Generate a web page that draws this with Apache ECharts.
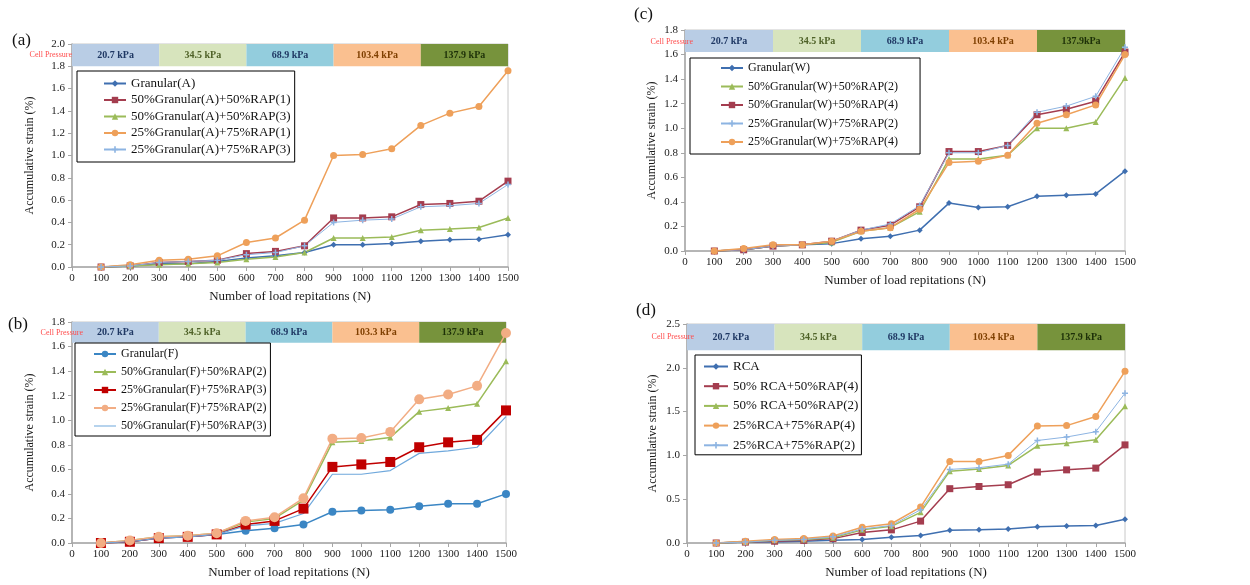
<!DOCTYPE html>
<html>
<head>
<meta charset="utf-8">
<script src="https://cdn.jsdelivr.net/npm/echarts@6/dist/echarts.min.js"></script>
<style>
  html, body { margin: 0; padding: 0; background: #ffffff; }
  #chart { width: 1250px; height: 585px; }
</style>
</head>
<body>
<div id="chart"></div>
<script>
// Load repetitions (x values) shared by all four panels
const reps = [100, 200, 300, 400, 500, 600, 700, 800, 900, 1000, 1100, 1200, 1300, 1400, 1500];

// Confining-pressure stages shown in the band across the top of each panel
const stageEdges = [0, 300, 600, 900, 1200, 1500];
const stagesA = ['20.7 kPa', '34.5 kPa', '68.9 kPa', '103.4 kPa', '137.9 kPa'];
const stagesB = ['20.7 kPa', '34.5 kPa', '68.9 kPa', '103.3 kPa', '137.9 kPa'];
const stagesC = ['20.7 kPa', '34.5 kPa', '68.9 kPa', '103.4 kPa', '137.9kPa'];
const stagesD = ['20.7 kPa', '34.5 kPa', '68.9 kPa', '103.4 kPa', '137.9 kPa'];

// (a) Granular(A) blends – accumulative strain (%)
const namesA = ['Granular(A)', '50%Granular(A)+50%RAP(1)', '50%Granular(A)+50%RAP(3)', '25%Granular(A)+75%RAP(1)', '25%Granular(A)+75%RAP(3)'];
const granA  = [0, 0.01, 0.03, 0.03, 0.05, 0.08, 0.10, 0.13, 0.20, 0.20, 0.21, 0.23, 0.245, 0.25, 0.29];
const a50r1  = [0, 0.01, 0.04, 0.05, 0.06, 0.12, 0.14, 0.19, 0.44, 0.44, 0.45, 0.56, 0.57, 0.59, 0.77];
const a50r3  = [0, 0.01, 0.02, 0.03, 0.04, 0.07, 0.09, 0.13, 0.26, 0.26, 0.27, 0.33, 0.34, 0.355, 0.44];
const a25r1  = [0, 0.02, 0.06, 0.07, 0.10, 0.22, 0.26, 0.42, 1.00, 1.01, 1.06, 1.27, 1.38, 1.44, 1.76];
const a25r3  = [0, 0.01, 0.04, 0.05, 0.06, 0.11, 0.13, 0.19, 0.40, 0.42, 0.43, 0.54, 0.55, 0.57, 0.74];

// (b) Granular(F) blends
const namesB = ['Granular(F)', '50%Granular(F)+50%RAP(2)', '25%Granular(F)+75%RAP(3)', '25%Granular(F)+75%RAP(2)', '50%Granular(F)+50%RAP(3)'];
const granF  = [0, 0.01, 0.04, 0.05, 0.07, 0.10, 0.12, 0.15, 0.255, 0.265, 0.27, 0.30, 0.32, 0.32, 0.40];
const f50r2  = [0, 0.02, 0.05, 0.06, 0.08, 0.17, 0.20, 0.35, 0.82, 0.83, 0.86, 1.07, 1.10, 1.135, 1.48];
const f25r3  = [0, 0.01, 0.04, 0.05, 0.07, 0.15, 0.18, 0.28, 0.62, 0.64, 0.66, 0.78, 0.82, 0.84, 1.08];
const f25r2  = [0, 0.02, 0.05, 0.06, 0.08, 0.18, 0.21, 0.365, 0.85, 0.855, 0.905, 1.17, 1.21, 1.28, 1.71];
const f50r3  = [0, 0.01, 0.04, 0.05, 0.07, 0.14, 0.16, 0.24, 0.56, 0.56, 0.59, 0.73, 0.75, 0.78, 1.03];

// (c) Granular(W) blends
const namesC = ['Granular(W)', '50%Granular(W)+50%RAP(2)', '50%Granular(W)+50%RAP(4)', '25%Granular(W)+75%RAP(2)', '25%Granular(W)+75%RAP(4)'];
const granW  = [0, 0.01, 0.04, 0.05, 0.06, 0.10, 0.12, 0.17, 0.39, 0.355, 0.36, 0.445, 0.455, 0.465, 0.65];
const w50r2  = [0, 0.01, 0.04, 0.05, 0.07, 0.16, 0.19, 0.32, 0.75, 0.75, 0.78, 1.00, 1.00, 1.05, 1.41];
const w50r4  = [0, 0.01, 0.04, 0.05, 0.08, 0.17, 0.21, 0.36, 0.81, 0.81, 0.86, 1.11, 1.155, 1.22, 1.62];
const w25r2  = [0, 0.01, 0.04, 0.05, 0.08, 0.17, 0.22, 0.37, 0.80, 0.80, 0.86, 1.13, 1.18, 1.26, 1.66];
const w25r4  = [0, 0.02, 0.05, 0.05, 0.08, 0.16, 0.19, 0.34, 0.72, 0.73, 0.78, 1.04, 1.11, 1.19, 1.60];

// (d) RCA blends
const namesD = ['RCA', '50% RCA+50%RAP(4)', '50% RCA+50%RAP(2)', '25%RCA+75%RAP(4)', '25%RCA+75%RAP(2)'];
const rca    = [0, 0.01, 0.01, 0.02, 0.03, 0.04, 0.065, 0.085, 0.145, 0.15, 0.16, 0.185, 0.195, 0.20, 0.27];
const r50r4  = [0, 0.01, 0.02, 0.03, 0.05, 0.12, 0.15, 0.25, 0.62, 0.645, 0.665, 0.81, 0.835, 0.855, 1.12];
const r50r2  = [0, 0.01, 0.03, 0.04, 0.06, 0.15, 0.19, 0.35, 0.82, 0.845, 0.885, 1.11, 1.14, 1.18, 1.56];
const r25r4  = [0, 0.02, 0.04, 0.05, 0.08, 0.18, 0.22, 0.41, 0.93, 0.93, 1.00, 1.335, 1.34, 1.445, 1.96];
const r25r2  = [0, 0.01, 0.03, 0.04, 0.07, 0.16, 0.20, 0.38, 0.84, 0.86, 0.90, 1.17, 1.21, 1.27, 1.71];

// ---------- styling ----------
const FONT = 'Liberation Serif';
const stageFill = ['#b9cde5', '#d7e4bd', '#93cddd', '#fac090', '#77933c'];
const stageText = ['#1f3864', '#4f6228', '#1f3864', '#7f3f00', '#1d3008'];
const plusPath = 'path://M3,0H5V3H8V5H5V8H3V5H0V3H3Z';
// plain horizontal stroke for a marker-less legend entry (corner specks fix the box)
const lineOnlyIcon = 'path://M0,0H0.05V0.05H0ZM0,3.4H24V4.6H0ZM23.95,7.95H24V8H23.95Z';

const styles = {
  blueDiamond: { color: '#3f6fb0', symbol: 'diamond', symbolSize: 6, width: 1.5 },
  blueCircle:  { color: '#3b86c4', symbol: 'circle', symbolSize: 8, width: 1.5 },
  maroonSq:    { color: '#a43d4f', symbol: 'rect', symbolSize: 7, width: 1.5 },
  redSq:       { color: '#c00000', symbol: 'rect', symbolSize: 10, width: 1.5 },
  greenTri:    { color: '#9bbb59', symbol: 'triangle', symbolSize: 6, width: 1.5 },
  orangeDot:   { color: '#eea05a', symbol: 'circle', symbolSize: 7, width: 1.5 },
  peachDot:    { color: '#f2ad84', symbol: 'circle', symbolSize: 10, width: 1.5 },
  lightPlus:   { color: '#8db4e2', symbol: plusPath, symbolSize: 6, width: 1 },
  lightLine:   { color: '#6fa8dc', symbol: 'none', symbolSize: 0, width: 1.2 }
};

const panels = [
  { key: 'a', grid: { left: 72, top: 44, width: 436, height: 223 }, yMax: 2.0, yInt: 0.2, band: 1.8,
    stages: stagesA, names: namesA, values: [granA, a50r1, a50r3, a25r1, a25r3],
    kinds: ['blueDiamond', 'maroonSq', 'greenTri', 'orangeDot', 'lightPlus'],
    legend: { left: 77, top: 71, padding: [6, 4, 6, 26], itemGap: 3.5, fontSize: 13, itemWidth: 22 },
    yNameGap: 36, label: '(a)', labelPos: [12, 32], cellPos: [72, 55] },
  { key: 'c', grid: { left: 685, top: 30, width: 440, height: 221 }, yMax: 1.8, yInt: 0.2, band: 1.62,
    stages: stagesC, names: namesC, values: [granW, w50r2, w50r4, w25r2, w25r4],
    kinds: ['blueDiamond', 'greenTri', 'maroonSq', 'lightPlus', 'orangeDot'],
    legend: { left: 690, top: 58, padding: [4, 22, 6, 30], itemGap: 6.5, fontSize: 12, itemWidth: 22 },
    yNameGap: 27, label: '(c)', labelPos: [634, 6], cellPos: [693, 42] },
  { key: 'b', grid: { left: 72, top: 322, width: 434, height: 221 }, yMax: 1.8, yInt: 0.2, band: 1.63,
    stages: stagesB, names: namesB, values: [granF, f50r2, f25r3, f25r2, f50r3],
    kinds: ['blueCircle', 'greenTri', 'redSq', 'peachDot', 'lightLine'],
    legend: { left: 75, top: 343, padding: [5, 4, 4, 18], itemGap: 6, fontSize: 12, itemWidth: 22 },
    yNameGap: 36, label: '(b)', labelPos: [8, 316], cellPos: [83, 333] },
  { key: 'd', grid: { left: 687, top: 324, width: 438, height: 219 }, yMax: 2.5, yInt: 0.5, band: 2.2,
    stages: stagesD, names: namesD, values: [rca, r50r4, r50r2, r25r4, r25r2],
    kinds: ['blueDiamond', 'maroonSq', 'greenTri', 'orangeDot', 'lightPlus'],
    legend: { left: 695, top: 355, padding: [5, 3, 3, 8], itemGap: 6.7, fontSize: 13, itemWidth: 24 },
    yNameGap: 28, label: '(d)', labelPos: [636, 302], cellPos: [694, 337] }
];

const option = {
  animation: false,
  backgroundColor: '#ffffff',
  grid: [], xAxis: [], yAxis: [], series: [], legend: [], graphic: []
};

const axisGray = '#a6a6a6';

panels.forEach((p, i) => {
  option.grid.push(Object.assign({ show: true, borderColor: '#c8c8c8', borderWidth: 1, backgroundColor: 'transparent' }, p.grid));

  option.xAxis.push({
    type: 'value', gridIndex: i, min: 0, max: 1500, interval: 100,
    name: 'Number of load repitations (N)', nameLocation: 'middle', nameGap: 23,
    nameTextStyle: { fontFamily: FONT, fontSize: 13, color: '#1a1a1a' },
    axisLine: { show: true, lineStyle: { color: axisGray, width: 1.5 } },
    axisTick: { show: true, length: 4, lineStyle: { color: axisGray } },
    axisLabel: { fontFamily: FONT, fontSize: 11, color: '#1a1a1a', margin: 6,
                 formatter: v => String(v) },
    splitLine: { show: false }
  });

  option.yAxis.push({
    type: 'value', gridIndex: i, min: 0, max: p.yMax, interval: p.yInt,
    name: 'Accumulative strain (%)', nameLocation: 'middle', nameGap: p.yNameGap, nameRotate: 90,
    nameTextStyle: { fontFamily: FONT, fontSize: 12, color: '#1a1a1a' },
    axisLine: { show: true, lineStyle: { color: axisGray, width: 1.5 } },
    axisTick: { show: true, length: 4, lineStyle: { color: axisGray } },
    axisLabel: { fontFamily: FONT, fontSize: 11, color: '#1a1a1a', margin: 7,
                 formatter: v => v.toFixed(1) },
    splitLine: { show: false }
  });

  // pressure-stage band along the top of the plot
  const bandData = p.stages.map((s, k) => [
    { name: s, xAxis: stageEdges[k], yAxis: p.band,
      itemStyle: { color: stageFill[k], opacity: 1 },
      label: { color: stageText[k] } },
    { xAxis: stageEdges[k + 1], yAxis: p.yMax }
  ]);

  const legendData = [];
  p.names.forEach((name, j) => {
    const st = styles[p.kinds[j]];
    const s = {
      name: name, type: 'line', xAxisIndex: i, yAxisIndex: i,
      data: reps.map((r, k) => [r, p.values[j][k]]),
      symbol: st.symbol, symbolSize: st.symbolSize, showSymbol: st.symbol !== 'none',
      lineStyle: { color: st.color, width: st.width },
      itemStyle: { color: st.color, borderWidth: 0 },
      z: 3
    };
    if (j === 0) {
      s.markArea = {
        silent: true,
        z: 1,
        label: { show: true, position: 'inside', fontFamily: FONT, fontSize: 10, fontWeight: 'bold' },
        data: bandData
      };
    }
    option.series.push(s);
    legendData.push(st.symbol === 'none' ? { name: name, icon: lineOnlyIcon } : { name: name });
  });

  option.legend.push({
    data: legendData, orient: 'vertical',
    left: p.legend.left, top: p.legend.top, padding: p.legend.padding,
    itemGap: p.legend.itemGap, itemWidth: p.legend.itemWidth, itemHeight: 8,
    borderColor: '#000000', borderWidth: 1, backgroundColor: '#ffffff',
    textStyle: { fontFamily: FONT, fontSize: p.legend.fontSize, color: '#111111' },
    selectedMode: false
  });

  option.graphic.push({
    type: 'text', left: p.labelPos[0], top: p.labelPos[1],
    style: { text: p.label, fontFamily: FONT, fontSize: 17, fill: '#111111' }, z: 10
  });
  option.graphic.push({
    type: 'text', x: p.cellPos[0], y: p.cellPos[1],
    style: { text: 'Cell Pressure', fontFamily: FONT, fontSize: 8, fill: '#ff4d4d',
             textAlign: 'right', textVerticalAlign: 'middle' }, z: 10
  });
});

const chart = echarts.init(document.getElementById('chart'), null, { renderer: 'canvas' });
chart.setOption(option);
</script>
</body>
</html>
